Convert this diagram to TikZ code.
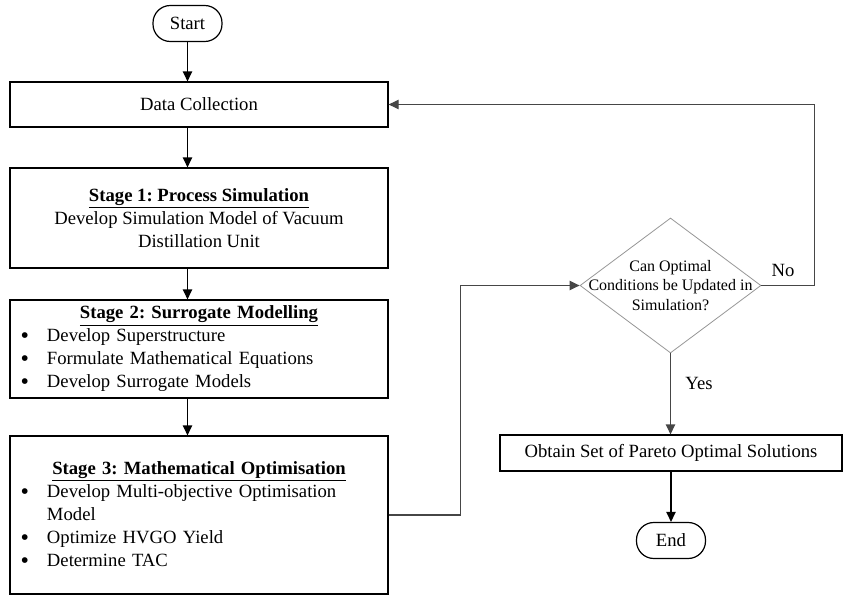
\documentclass[tikz,border=0pt]{standalone}
\usepackage{fontspec}
\setmainfont{Liberation Serif}
\usetikzlibrary{arrows.meta,shapes.geometric}

\definecolor{gline}{RGB}{70,70,70}
\definecolor{gedge}{RGB}{150,150,150}

\tikzset{every picture/.style={line width=0.9pt}}
\tikzset{
  termbox/.style={draw, rounded corners=13pt, minimum width=51.75pt, minimum height=27pt, inner sep=0pt, font=\fontsize{14}{17}\selectfont},
  procbox/.style={draw, minimum width=283.5pt, inner sep=0pt, align=center, font=\fontsize{14}{17.25}\selectfont},
  listbox/.style={draw, text width=283.5pt, inner sep=0pt, font=\fontsize{14}{17.25}\selectfont},
  decbox/.style={draw=gedge, line width=0.6pt, diamond, minimum width=135.75pt, minimum height=101.25pt, inner sep=0pt},
  arr/.style={-{Triangle[length=7.5pt,width=7pt]}},
  garr/.style={arr, draw=gline},
  lbl/.style={inner sep=0.75pt, font=\fontsize{14}{17}\selectfont}
}
\frenchspacing
\newcommand{\bitem}[1]{\par\noindent\hspace*{8pt}\makebox[19.75pt][l]{\raisebox{-1.3pt}{\fontsize{18}{17.25}\selectfont\textbullet}}#1}
\newcommand{\bcont}[1]{\par\noindent\hspace*{27.75pt}#1}

\begin{document}
\begin{tikzpicture}[x=0.75pt,y=0.75pt,yscale=-1,xscale=1]
	%uncomment if require: \path (0,596); %set diagram left start at 0, and has height of 596
	\useasboundingbox (0,0) rectangle (843,596);
	
	%Flowchart: Terminator [start]
	\node[termbox] (start) at (187.5,23.5) {Start};
	%Flowchart: Process [data]
	\node[procbox, minimum height=33.75pt] (dc) at (199,104.5) {Data Collection};
	%Flowchart: Process [stage 1]
	\node[procbox, minimum height=75pt] (sim) at (199,218) {\underline{\textbf{Stage 1: Process Simulation}}\\Develop Simulation Model of Vacuum\\Distillation Unit};
	%Flowchart: Process [stage 2]
	\node[listbox, minimum height=73.5pt] (sur) at (199,349) {{\centering\underline{\textbf{Stage 2: Surrogate Modelling}}\par}\raggedright
		\bitem{Develop Superstructure}%
		\bitem{Formulate Mathematical Equations}%
		\bitem{Develop Surrogate Models}};
	%Flowchart: Process [stage 3]
	\node[listbox, minimum height=118.5pt] (opt) at (199,515) {{\centering\underline{\textbf{Stage 3: Mathematical Optimisation}}\par}\raggedright
		\bitem{Develop Multi-objective Optimisation}%
		\bcont{Model}%
		\bitem{Optimize HVGO Yield}%
		\bitem{Determine TAC}};
	%Flowchart: Decision
	\node[decbox, label={[align=center, inner sep=0pt, font=\fontsize{12}{14.6}\selectfont]center:Can Optimal\\Conditions be Updated in\\Simulation?}] (upd) at (670.5,285.5) {};
	%Flowchart: Process [pareto]
	\node[procbox, minimum width=256.5pt, minimum height=27pt] (par) at (671,453) {Obtain Set of Pareto Optimal Solutions};
	%Flowchart: Terminator [end]
	\node[termbox] (end) at (671,540.5) {End};
	
	%Straight Lines
	\draw[arr] (start) -- (dc.north -| start);
	\draw[arr] (dc.south -| start) -- (sim.north -| start);
	\draw[arr] (sim.south -| start) -- (sur.north -| start);
	\draw[arr] (sur.south -| start) -- (opt.north -| start);
	%Elbow Connectors
	\draw[garr] (opt.east) -- ++(72,0) |- (upd.west);
	\draw[garr] (upd.east) -- ++(53,0) |- (dc.east);
	\draw[garr] (upd.south) -- (upd.south |- par.north);
	\draw[arr] (par) -- (end);
	
	\node[lbl] (no) at (783,270) {No};
	\node[lbl] (yes) at (699,383) {Yes};
	
\end{tikzpicture}
\end{document}
